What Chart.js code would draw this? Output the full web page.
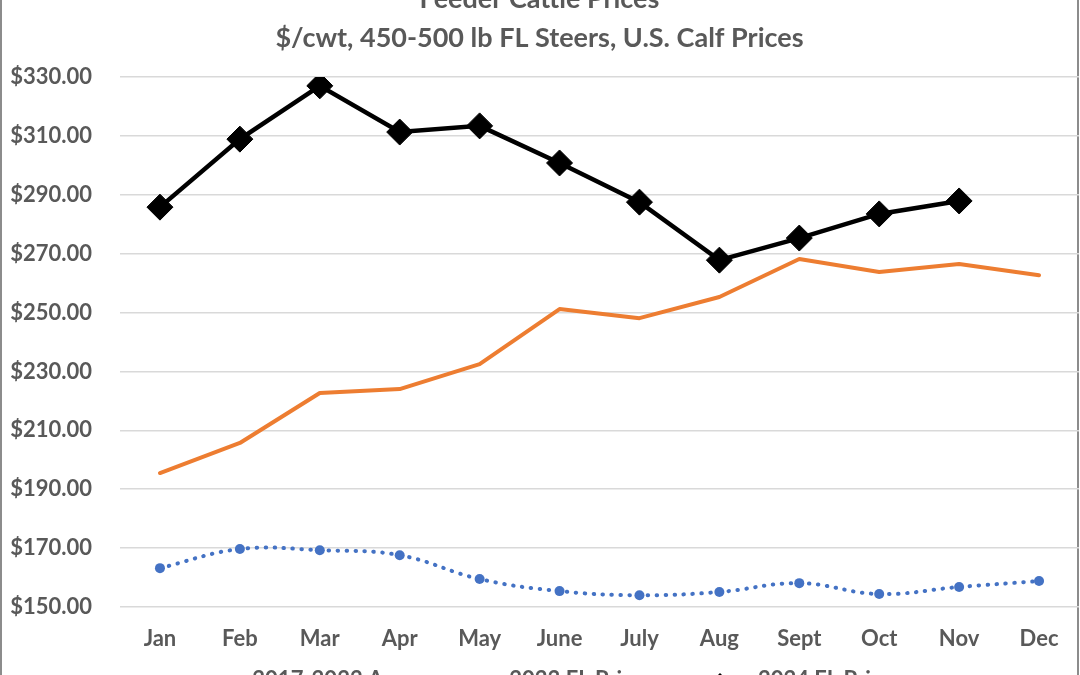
<!DOCTYPE html>
<html><head><meta charset="utf-8">
<script src="https://cdn.jsdelivr.net/npm/chart.js@4.4.1/dist/chart.umd.min.js"></script>
<style>
html,body{margin:0;padding:0;background:#fff;overflow:hidden;width:1080px;height:675px;position:relative}
#frame{position:absolute;left:0;top:-10px;width:1075px;height:700px;border:2px solid #8c8c8c;}
#c{position:absolute;left:0;top:-40px;}
</style></head><body>
<div id="frame"></div>
<canvas id="c" width="1080" height="741"></canvas>
<script>
const categories = ['Jan','Feb','Mar','Apr','May','June','July','Aug','Sept','Oct','Nov','Dec'];
const avg1722 = [163.2,169.7,169.3,167.6,159.5,155.4,154.0,155.1,158.1,154.4,156.8,158.8];
const fl2023 = [195.5,205.7,222.7,224.0,232.5,251.2,248.1,255.3,268.2,263.8,266.5,262.7];
const fl2024 = [285.8,308.9,327.0,311.3,313.4,300.8,287.5,267.8,275.3,283.5,287.9,null];
const yMin = 150, yMax = 330, yStep = 20;
const seriesNames = ['2017-2022 Avg','2023 FL Prices','2024 FL Prices'];
const FONT = 'Lato';
const TXT = '#595959';

// legend samples: blank on the left, then a 53px line sample
function sample(kind){
  const c = document.createElement('canvas'); c.width = 79; c.height = 30;
  const g = c.getContext('2d'); g.lineCap='round';
  const L = 26, R = 78, M = (L+R)/2, Y = 15;
  if(kind===0){
    g.strokeStyle='#4472C4'; g.lineWidth=4; g.setLineDash([0.5,8.5]);
    g.beginPath(); g.moveTo(L+2,Y); g.lineTo(R-2,Y); g.stroke();
    g.setLineDash([]); g.fillStyle='#4472C4'; g.beginPath(); g.arc(M,Y,4.5,0,Math.PI*2); g.fill();
  } else if(kind===1){
    g.strokeStyle='#ED7D31'; g.lineWidth=4; g.beginPath(); g.moveTo(L+1,Y); g.lineTo(R-1,Y); g.stroke();
  } else {
    g.strokeStyle='#000'; g.lineWidth=3; g.beginPath(); g.moveTo(L,Y); g.lineTo(R,Y); g.stroke();
    g.fillStyle='#000'; g.beginPath(); g.moveTo(M,Y-7); g.lineTo(M+7,Y); g.lineTo(M,Y+7); g.lineTo(M-7,Y); g.closePath(); g.fill();
  }
  return c;
}
const samples = [sample(0),sample(1),sample(2)];

const legendShift = {id:'legendShift', afterLayout(chart){ if(chart.legend){ chart.legend.left -= 7; chart.legend.right -= 7; } }};

new Chart(document.getElementById('c'), {
  type: 'line',
  data: {
    labels: categories,
    datasets: [
      {label: seriesNames[0], data: avg1722, borderColor:'#4472C4', backgroundColor:'#4472C4', borderWidth:4,
       borderDash:[0.5,8.5], borderCapStyle:'round', tension:0.4, pointRadius:5, pointBorderWidth:0, pointStyle:'circle'},
      {label: seriesNames[1], data: fl2023, borderColor:'#ED7D31', backgroundColor:'#ED7D31', borderWidth:4,
       borderCapStyle:'round', borderJoinStyle:'round', pointRadius:0, tension:0},
      {label: seriesNames[2], data: fl2024, borderColor:'#000', backgroundColor:'#000', borderWidth:4.5,
       pointStyle:'rectRot', pointRadius:13, pointBorderWidth:1, pointBorderColor:'#000', tension:0, spanGaps:false}
    ]
  },
  plugins:[legendShift],
  options: {
    responsive:false, animation:false,
    layout:{autoPadding:false, padding:{left:0,right:1,top:0,bottom:0}},
    plugins:{
      title:{display:true, text:'Feeder Cattle Prices', color:TXT, font:{family:FONT,size:27,weight:'bold'}, padding:{top:22.8,bottom:4}},
      subtitle:{display:true, text:'$/cwt, 450-500 lb FL Steers, U.S. Calf Prices', color:TXT, font:{family:FONT,size:27,weight:'bold'}, padding:{top:2.6,bottom:22.8}},
      legend:{position:'bottom', labels:{usePointStyle:true, pointStyleWidth:79, padding:14, color:TXT, font:{family:FONT,size:22,weight:'bold'},
        generateLabels:(chart)=>chart.data.datasets.map((ds,i)=>({text:ds.label, pointStyle:samples[i], fillStyle:'rgba(0,0,0,0)', strokeStyle:'rgba(0,0,0,0)', lineWidth:0, hidden:false, datasetIndex:i, fontColor:TXT}))}},
      tooltip:{enabled:false}
    },
    scales:{
      x:{offset:true, grid:{display:false, drawTicks:false}, border:{display:false},
         ticks:{color:TXT, font:{family:FONT,size:22,weight:'bold'}, padding:19, maxRotation:0, autoSkip:false},
         afterFit:(s)=>{s.height=48;}},
      y:{min:yMin, max:yMax, grid:{color:'#d9d9d9', lineWidth:1.5, drawTicks:false}, border:{display:false},
         ticks:{stepSize:yStep, color:TXT, font:{family:FONT,size:22,weight:'bold'}, padding:28, callback:(v)=>'$'+Number(v).toFixed(2)},
         afterFit:(s)=>{s.width=120;}}
    }
  }
});
</script>
</body></html>
